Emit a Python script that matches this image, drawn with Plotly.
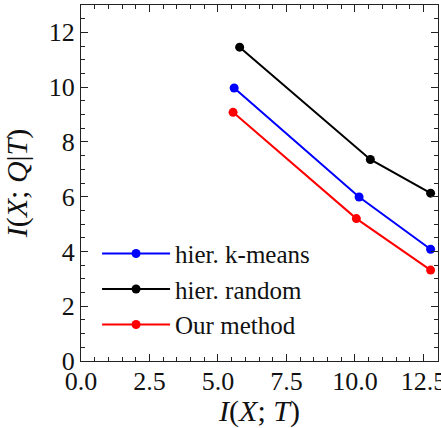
import plotly.graph_objects as go

kmeans_x = [5.59, 10.15, 12.76]
kmeans_y = [9.97, 5.99, 4.08]
random_x = [5.79, 10.56, 12.76]
random_y = [11.46, 7.36, 6.13]
ours_x = [5.55, 10.05, 12.76]
ours_y = [9.08, 5.20, 3.32]

x_ticks = [0, 2.5, 5, 7.5, 10, 12.5]
x_ticklabels = ["0.0", "2.5", "5.0", "7.5", "10.0", "12.5"]
y_ticks = [0, 2, 4, 6, 8, 10, 12]

FONT = "Liberation Serif"

fig = go.Figure()
for name, xs, ys, col in [
    ("hier. k-means", kmeans_x, kmeans_y, "#0000ff"),
    ("hier. random", random_x, random_y, "#000000"),
    ("Our method", ours_x, ours_y, "#ff0000"),
]:
    fig.add_trace(go.Scatter(
        x=xs, y=ys, name=name, mode="lines+markers",
        line=dict(color=col, width=2),
        marker=dict(color=col, size=9),
    ))

axis_common = dict(
    showgrid=False, zeroline=False, showline=True, linecolor="#222222", linewidth=1,
    mirror="allticks", ticks="inside", ticklen=7, tickwidth=1, tickcolor="#222222",
    tickfont=dict(family=FONT, size=26, color="#111111"),
    automargin=False, ticklabeloverflow="allow",
)

fig.update_xaxes(
    range=[0, 13.03], tickvals=x_ticks, ticktext=x_ticklabels,
    minor=dict(dtick=0.5, ticks="inside", ticklen=4, tickcolor="#222222"),
    title=dict(text="<i>I</i>(<i>X</i>; <i>T</i>)", font=dict(family=FONT, size=30, color="#111111")),
    ticklabelstandoff=-3,
    **axis_common,
)
fig.update_yaxes(
    range=[0, 13.0], tickvals=y_ticks,
    minor=dict(dtick=0.5, ticks="inside", ticklen=4, tickcolor="#222222"),
    title=dict(text="<i>I</i>(<i>X</i>; <i>Q</i>|<i>T</i>)", font=dict(family=FONT, size=30, color="#111111")),
    **axis_common,
)

fig.update_layout(
    width=441, height=428,
    margin=dict(l=81, r=3, t=5, b=67),
    plot_bgcolor="white", paper_bgcolor="white",
    legend=dict(
        x=0.045, y=0.366, xanchor="left", yanchor="top",
        bgcolor="rgba(0,0,0,0)",
        font=dict(family=FONT, size=25, color="#111111"),
        tracegroupgap=0, itemwidth=68,
    ),
)

fig.write_html("out.html", config={"displayModeBar": False},
               post_script="document.body.style.margin='0';")
